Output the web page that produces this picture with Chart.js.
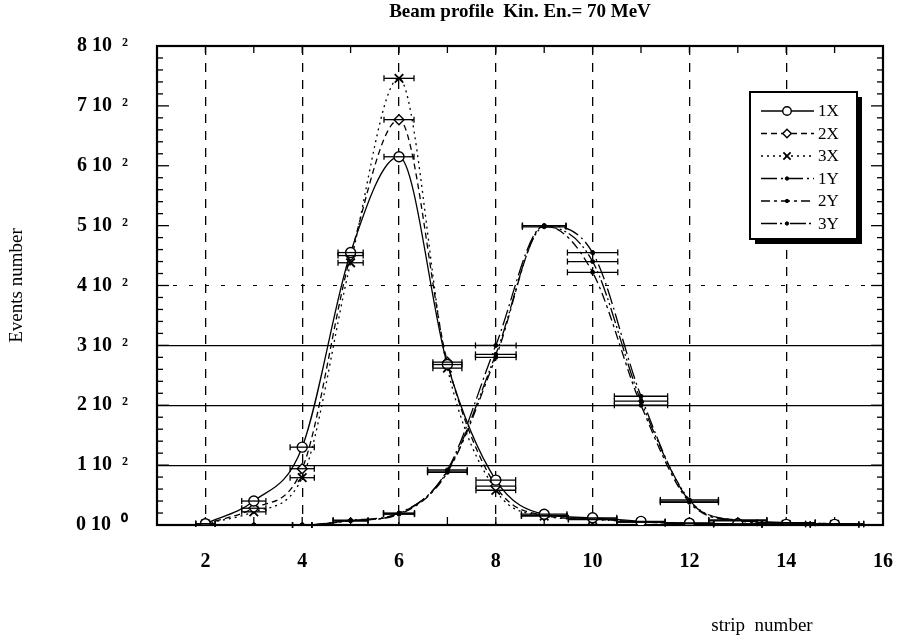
<!DOCTYPE html>
<html>
<head>
<meta charset="utf-8">
<script src="https://cdn.jsdelivr.net/npm/chart.js@4.4.1/dist/chart.umd.min.js"></script>
<style>
  html, body { margin: 0; padding: 0; background: #fff; }
  #wrap { width: 897px; height: 642px; position: relative; }
</style>
</head>
<body>
<div id="wrap"><canvas id="c"></canvas></div>
<script>
// strip numbers and events per strip
const strips = [2, 3, 4, 5, 6, 7, 8, 9, 10, 11, 12, 13, 14, 15];
const ev1X = [2, 40, 130, 455, 615, 268, 75, 18, 12, 6, 3, 2, 1, 1];
const ev2X = [2, 28, 94, 450, 677, 272, 65, 16, 10, 5, 3, 1, 1, 1];
const ev3X = [2, 22, 79, 438, 746, 262, 58, 15, 9, 5, 2, 1, 1, 1];
const ev1Y = [0, 0, 0, 8, 20, 92, 300, 500, 455, 215, 40, 8, 4, 2];
const ev2Y = [0, 0, 0, 7, 18, 88, 280, 500, 422, 200, 38, 7, 3, 1];
const ev3Y = [0, 0, 0, 7, 19, 90, 285, 498, 440, 207, 42, 8, 4, 2];
// half width of the horizontal error bars (strip units)
const errX = [0.2, 0.25, 0.25, 0.26, 0.31, 0.3, 0.41, 0.47, 0.5, 0.5, 0.5, 0.5, 0.5, 0.5];
const errY = [0, 0, 0.2, 0.36, 0.32, 0.41, 0.42, 0.45, 0.52, 0.55, 0.6, 0.6, 0.6, 0.6];

const xTicks = [2, 4, 6, 8, 10, 12, 14, 16];
const xGrid = [2, 4, 6, 8, 10, 12, 14];
const yTicks = [0, 100, 200, 300, 400, 500, 600, 700, 800];
const ySolidRows = [100, 200, 300];
const yDashedRows = [400];

const titleText = 'Beam profile  Kin. En.= 70 MeV';
const xTitle = 'strip  number';
const yTitle = 'Events number';

const serif = "'Liberation Serif', 'Times New Roman', serif";
Chart.defaults.font.family = serif;
Chart.defaults.color = '#000';

const pts = arr => strips.map((s, i) => ({ x: s, y: arr[i] }));

function makeSet(label, arr, err, dash, style, radius, bw) {
  const solid = style === 'circle' && radius < 3;
  return {
    label,
    data: pts(arr),
    err,
    borderColor: '#000',
    backgroundColor: solid ? '#000' : '#fff',
    borderWidth: 1.3,
    borderDash: dash,
    pointStyle: style,
    pointRadius: radius,
    pointBorderWidth: bw,
    pointBorderColor: '#000',
    pointBackgroundColor: solid ? '#000' : '#fff',
    cubicInterpolationMode: 'monotone',
    showLine: true
  };
}

const datasets = [
  makeSet('1X', ev1X, errX, [], 'circle', 5, 1.4),
  makeSet('2X', ev2X, errX, [6, 4], 'rectRot', 5, 1.4),
  makeSet('3X', ev3X, errX, [2, 4], 'crossRot', 6, 1.8),
  makeSet('1Y', ev1Y, errY, [16, 4, 2, 4], 'circle', 2, 1),
  makeSet('2Y', ev2Y, errY, [9, 4, 3, 4], 'circle', 2, 1),
  makeSet('3Y', ev3Y, errY, [16, 3, 2, 3, 2, 3], 'circle', 2, 1)
];

function line(ctx, x1, y1, x2, y2) {
  ctx.beginPath();
  ctx.moveTo(x1, y1);
  ctx.lineTo(x2, y2);
  ctx.stroke();
}

const framePlugin = {
  id: 'frame',
  beforeDatasetsDraw(chart) {
    const { ctx, chartArea: a, scales: { x, y } } = chart;
    ctx.save();
    ctx.strokeStyle = '#000';
    ctx.lineWidth = 1;
    ctx.setLineDash([4, 12]);
    yDashedRows.forEach(v => {
      const py = y.getPixelForValue(v);
      line(ctx, a.left, py, a.right, py);
    });
    ctx.setLineDash([]);
    ctx.lineWidth = 1.3;
    for (let v = 0; v <= 800; v += 20) {
      const py = y.getPixelForValue(v);
      const len = v % 100 ? 6 : 12;
      line(ctx, a.left, py, a.left + len, py);
      line(ctx, a.right, py, a.right - len, py);
    }
    for (let s = 1; s <= 16; s++) {
      const px = x.getPixelForValue(s);
      line(ctx, px, a.bottom, px, a.bottom - 8);
      line(ctx, px, a.top, px, a.top + 7);
    }
    ctx.lineWidth = 2.2;
    ctx.strokeRect(a.left, a.top, a.right - a.left, a.bottom - a.top);
    ctx.restore();
  },
  afterDatasetsDraw(chart) {
    const { ctx, scales: { x, y } } = chart;
    ctx.save();
    ctx.strokeStyle = '#000';
    ctx.lineWidth = 1.3;
    chart.data.datasets.forEach(ds => {
      ds.data.forEach((p, i) => {
        const e = ds.err[i];
        if (!e) return;
        const x1 = x.getPixelForValue(p.x - e);
        const x2 = x.getPixelForValue(p.x + e);
        const py = y.getPixelForValue(p.y);
        line(ctx, x1, py, x2, py);
        line(ctx, x1, py - 3, x1, py + 3);
        line(ctx, x2, py - 3, x2, py + 3);
      });
    });
    ctx.restore();
  },
  afterDraw(chart) {
    const { ctx, chartArea: a } = chart;
    ctx.save();
    ctx.fillStyle = '#000';
    ctx.textAlign = 'center';
    ctx.textBaseline = 'middle';
    ctx.font = 'bold 19px ' + serif;
    ctx.fillText(titleText, (a.left + a.right) / 2, 12);
    ctx.font = '19px ' + serif;
    ctx.fillText(xTitle, a.right - 121, 626);

    // legend box
    const bx = a.right - 133, by = a.top + 46, bw = 107, bh = 147;
    ctx.fillRect(bx + 5, by + 5, bw, bh);
    ctx.fillStyle = '#fff';
    ctx.fillRect(bx, by, bw, bh);
    ctx.strokeStyle = '#000';
    ctx.lineWidth = 2;
    ctx.strokeRect(bx, by, bw, bh);
    ctx.textAlign = 'left';
    ctx.font = '17px ' + serif;
    chart.data.datasets.forEach((ds, i) => {
      const ly = by + 19 + i * 22.5;
      ctx.strokeStyle = '#000';
      ctx.lineWidth = 1.3;
      ctx.setLineDash(ds.borderDash);
      line(ctx, bx + 11, ly, bx + 64, ly);
      ctx.setLineDash([]);
      ctx.fillStyle = ds.pointBackgroundColor;
      ctx.lineWidth = ds.pointBorderWidth;
      Chart.helpers.drawPoint(ctx, {
        pointStyle: ds.pointStyle,
        radius: ds.pointRadius * 0.85,
        rotation: 0,
        borderWidth: ds.pointBorderWidth
      }, bx + 37, ly);
      ctx.fillStyle = '#000';
      ctx.fillText(ds.label, bx + 68, ly + 1);
    });
    ctx.restore();
  }
};

new Chart(document.getElementById('c'), {
  type: 'line',
  data: { datasets },
  options: {
    responsive: true,
    maintainAspectRatio: false,
    animation: false,
    layout: { padding: { top: 46, right: 14, left: 0, bottom: 0 } },
    plugins: {
      legend: { display: false },
      title: { display: false },
      tooltip: { enabled: false }
    },
    scales: {
      x: {
        type: 'linear',
        min: 1,
        max: 16,
        afterBuildTicks: s => { s.ticks = xTicks.map(v => ({ value: v })); },
        afterFit: s => { s.height = 117; s.paddingLeft = 0; s.paddingRight = 0; },
        border: { display: false, dash: [9, 8] },
        grid: {
          drawTicks: false,
          lineWidth: 1.3,
          color: c => xGrid.includes(c.tick.value) ? '#000' : 'rgba(0,0,0,0)'
        },
        ticks: { padding: 25, autoSkip: false, maxRotation: 0, font: { size: 20, weight: 'bold' } }
      },
      y: {
        min: 0,
        max: 800,
        afterBuildTicks: s => { s.ticks = yTicks.map(v => ({ value: v })); },
        afterFit: s => { s.width = 157; },
        border: { display: false },
        grid: {
          drawTicks: false,
          lineWidth: 1.2,
          color: c => ySolidRows.includes(c.tick.value) ? '#000' : 'rgba(0,0,0,0)'
        },
        ticks: {
          padding: 29,
          autoSkip: false,
          font: { size: 20, weight: 'bold' },
          callback: v => (v / 100) + ' 10  ' + (v === 0 ? '\u2070' : '\u00b2')
        },
        title: {
          display: true,
          text: yTitle,
          font: { size: 19 },
          padding: { top: 6, bottom: 0 }
        }
      }
    }
  },
  plugins: [framePlugin]
});
</script>
</body>
</html>
